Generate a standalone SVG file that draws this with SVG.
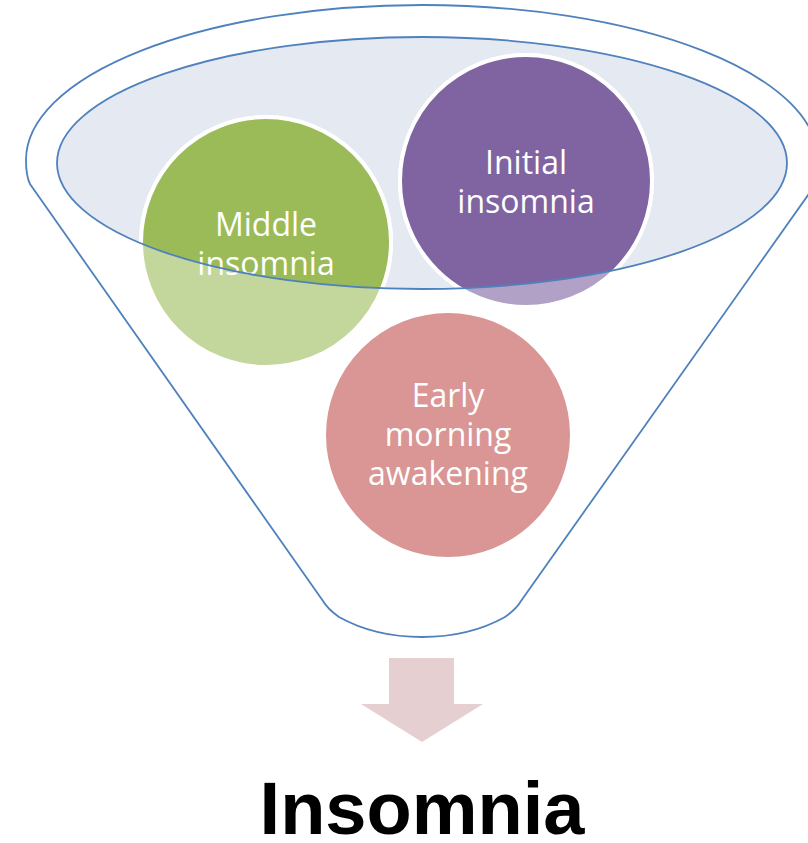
<svg xmlns="http://www.w3.org/2000/svg" width="808" height="843" viewBox="0 0 808 843">
<style>
.lbl{font-family:"Open Sans","Noto Sans","Liberation Sans",sans-serif;font-size:32px;fill:#FFFFFF;text-anchor:middle}
.ring{stroke:#FFFFFF;stroke-width:4}
.outline{fill:none;stroke:#4F81BD;stroke-width:1.8}
.title{font-family:"Liberation Sans",Arial,sans-serif;font-weight:bold;font-size:74px;fill:#000000;text-anchor:middle}
</style>
<defs>
<clipPath id="glass"><ellipse cx="422" cy="163" rx="365" ry="126"/></clipPath>
</defs>
<rect width="808" height="843" fill="#FFFFFF"/>
<g id="funnel">
<path class="outline" d="M30,184 C26,176 26,168 26,160 A396,155 0 0 1 818,160 C818,170 816,180 813,188 L521,601 C517,608 512,612 505,617 C480,631 452,637 422,637 C392,637 364,631 339,617 C332,612 327,608 323,601 Z"/>
<ellipse cx="422" cy="163" rx="365" ry="126" fill="#E4E9F2"/>
</g>
<g id="node-middle">
<circle cx="266" cy="242" r="125" fill="#C3D69B" class="ring"/>
<circle cx="266" cy="242" r="125" fill="#9BBB59" class="ring" clip-path="url(#glass)"/>
<text class="lbl" x="266" y="236">Middle</text>
<text class="lbl" x="266" y="275">insomnia</text>
</g>
<g id="node-initial">
<circle cx="526" cy="181" r="126" fill="#B2A1C7" class="ring"/>
<circle cx="526" cy="181" r="126" fill="#8064A2" class="ring" clip-path="url(#glass)"/>
<text class="lbl" x="526" y="174">Initial</text>
<text class="lbl" x="526" y="213">insomnia</text>
</g>
<g id="node-early">
<circle cx="448" cy="435" r="124" fill="#D99694" class="ring"/>
<text class="lbl" x="448" y="407">Early</text>
<text class="lbl" x="448" y="446">morning</text>
<text class="lbl" x="448" y="485">awakening</text>
</g>
<g id="glass-rim">
<ellipse class="outline" cx="422" cy="163" rx="365" ry="126"/>
</g>
<g id="connectors">
<polygon points="389,658 454,658 454,704 483,704 422,742 361,704 389,704" fill="#E6CFD0"/>
</g>
<g id="node-result">
<text class="title" x="422" y="834">Insomnia</text>
</g>
</svg>
